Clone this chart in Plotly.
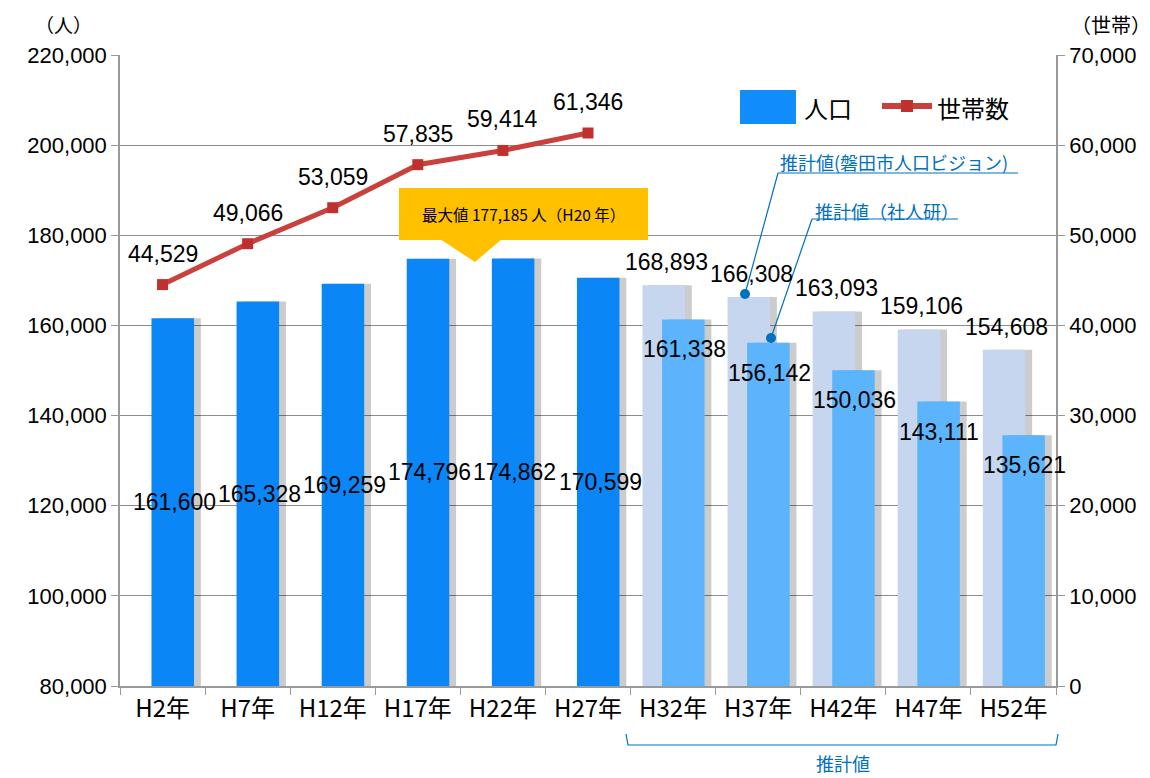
import plotly.graph_objects as go

years = ["H2年", "H7年", "H12年", "H17年", "H22年", "H27年",
         "H32年", "H37年", "H42年", "H47年", "H52年"]
actual_years = years[:6]
future_years = years[6:]

pop_actual = [161600, 165328, 169259, 174796, 174862, 170599]
pop_vision = [168893, 166308, 163093, 159106, 154608]   # 推計値（磐田市人口ビジョン）
pop_ipss = [161338, 156142, 150036, 143111, 135621]     # 推計値（社人研）
households = [44529, 49066, 53059, 57835, 59414, 61346]

max_note = "最大値 177,185 人（H20 年）"

Y_MIN, Y_MAX = 80000, 220000

JP = "Noto Sans CJK JP"
NUM = "Liberation Sans, Arial, sans-serif"
BLUE_TXT = "#0070C0"

# page has an 8px body margin, so the figure is a bit smaller than the window
OFF = 8
W, H = 1150 - OFF, 778 - OFF
# plot area in screen pixels: x 120..1056, y 55..686
X0, X1, Y0, Y1 = 120, 1056, 55, 686
L, T = X0 - OFF, Y0 - OFF
R, B = 1150 - X1, 778 - Y1
PW, PH = X1 - X0, Y1 - Y0


def px(x):
    return (x - X0) / PW


def py(y):
    return (Y1 - y) / PH


fig = go.Figure()

# shadows
fig.add_trace(go.Bar(x=future_years, y=pop_vision, width=0.5, offset=-0.36 + 0.08,
                     marker=dict(color="rgba(0,0,0,0.2)", line_width=0),
                     hoverinfo="skip", showlegend=False))
fig.add_trace(go.Bar(x=future_years, y=pop_vision, width=0.5, offset=-0.36,
                     marker=dict(color="#C6D6EE", line_width=0),
                     name="推計値（磐田市人口ビジョン）", showlegend=False))
fig.add_trace(go.Bar(x=actual_years + future_years, y=pop_actual + pop_ipss, width=0.5,
                     offset=-0.13 + 0.08,
                     marker=dict(color="rgba(0,0,0,0.2)", line_width=0),
                     hoverinfo="skip", showlegend=False))
fig.add_trace(go.Bar(x=future_years, y=pop_ipss, width=0.5, offset=-0.13,
                     marker=dict(color="#5CB5FC", line_width=0),
                     name="推計値（社人研）", showlegend=False))
fig.add_trace(go.Bar(x=actual_years, y=pop_actual, width=0.5, offset=-0.13,
                     marker=dict(color="#0A86F7", line_width=0),
                     name="人口", showlegend=False))
fig.add_trace(go.Scatter(x=actual_years, y=households, yaxis="y2", mode="lines+markers",
                         line=dict(color="#C9413D", width=5),
                         marker=dict(symbol="square", size=11, color="#C0302C"),
                         name="世帯数", showlegend=False))

lab_font = dict(family=NUM, size=23, color="black")
ann = []
for c, v in zip(actual_years, households):
    ann.append(dict(x=c, y=v, xref="x", yref="y2", yshift=31, text=f"{v:,}",
                    showarrow=False, font=lab_font))
# actual population labels sit in the middle of the visible bar
for c, v in zip(actual_years, pop_actual):
    ann.append(dict(x=c, y=(Y_MIN + v) / 2, xref="x", yref="y", xshift=12, text=f"{v:,}",
                    showarrow=False, font=lab_font))
for c, v in zip(future_years, pop_vision):
    ann.append(dict(x=c, y=v, xref="x", yref="y", xshift=-7, yshift=23, text=f"{v:,}",
                    showarrow=False, font=lab_font))
for c, v in zip(future_years, pop_ipss):
    ann.append(dict(x=c, y=v, xref="x", yref="y", xshift=11, yshift=-30, text=f"{v:,}",
                    showarrow=False, font=lab_font))


def note(x, y, text, size, color="black", xanchor="center"):
    return dict(x=px(x), y=py(y), xref="paper", yref="paper", text=text, showarrow=False,
                xanchor=xanchor, yanchor="middle", borderpad=0,
                font=dict(family=JP, size=size, color=color))


ann += [
    note(63, 24, "（人）", 19),
    note(1111, 24, "（世帯）", 20),
    note(523, 214, max_note, 15.5),
    note(803, 107, "人口", 24, xanchor="left"),
    note(936, 107, "世帯数", 24, xanchor="left"),
    note(779, 162, "推計値(磐田市人口ビジョン)", 18, BLUE_TXT, xanchor="left"),
    note(814, 211, "推計値（社人研）", 18, BLUE_TXT, xanchor="left"),
    note(843, 763, "推計値", 18, BLUE_TXT),
]

shapes = [
    # callout box + pointer
    dict(type="rect", xref="paper", yref="paper", x0=px(399), x1=px(648), y0=py(240), y1=py(188),
         fillcolor="#FFC000", line_width=0),
    dict(type="path", xref="paper", yref="paper",
         path=f"M {px(440)},{py(239)} L {px(502)},{py(239)} L {px(475)},{py(262)} Z",
         fillcolor="#FFC000", line_width=0),
    # legend symbols
    dict(type="rect", xref="paper", yref="paper", x0=px(740), x1=px(796), y0=py(124), y1=py(90),
         fillcolor="#118CFB", line_width=0),
    dict(type="line", xref="paper", yref="paper", x0=px(882), x1=px(932), y0=py(106), y1=py(106),
         line=dict(color="#C9413D", width=6)),
    dict(type="rect", xref="paper", yref="paper", x0=px(901), x1=px(913), y0=py(112), y1=py(100),
         fillcolor="#C0302C", line_width=0),
    # leader lines for forecast notes
    dict(type="line", xref="paper", yref="paper", x0=px(778), x1=px(1018), y0=py(173), y1=py(173),
         line=dict(color=BLUE_TXT, width=1.2)),
    dict(type="line", xref="paper", yref="paper", x0=px(778), x1=px(745), y0=py(173), y1=py(294),
         line=dict(color=BLUE_TXT, width=1.2)),
    dict(type="circle", xref="paper", yref="paper", x0=px(740), x1=px(750), y0=py(299), y1=py(289),
         fillcolor=BLUE_TXT, line_width=0),
    dict(type="line", xref="paper", yref="paper", x0=px(812), x1=px(958), y0=py(219), y1=py(219),
         line=dict(color=BLUE_TXT, width=1.2)),
    dict(type="line", xref="paper", yref="paper", x0=px(812), x1=px(771), y0=py(219), y1=py(338),
         line=dict(color=BLUE_TXT, width=1.2)),
    dict(type="circle", xref="paper", yref="paper", x0=px(766), x1=px(776), y0=py(343), y1=py(333),
         fillcolor=BLUE_TXT, line_width=0),
    # bracket under forecast years
    dict(type="path", xref="paper", yref="paper",
         path=f"M {px(626)},{py(734)} L {px(628)},{py(745)} L {px(1056)},{py(745)} L {px(1058)},{py(734)}",
         line=dict(color=BLUE_TXT, width=1.2)),
]

fig.update_layout(
    width=W, height=H, margin=dict(l=L, r=R, t=T, b=B, autoexpand=False),
    paper_bgcolor="white", plot_bgcolor="white",
    barmode="overlay", showlegend=False,
    annotations=ann, shapes=shapes,
    xaxis=dict(categoryorder="array", categoryarray=years, tickson="boundaries",
               ticks="outside", ticklen=7, tickcolor="#999", showline=True, linecolor="#999",
               linewidth=1.5, tickfont=dict(family=JP, size=24, color="black"), range=[-0.5, 10.5]),
    yaxis=dict(range=[Y_MIN, Y_MAX], dtick=20000, tickformat=",", showgrid=True,
               gridcolor="#8c8c8c", gridwidth=1, showline=True, linecolor="#999", linewidth=1.5,
               ticks="outside", ticklen=7, tickcolor="#999",
               tickfont=dict(family=NUM, size=22, color="black"), zeroline=False),
    yaxis2=dict(range=[0, 70000], dtick=10000, tickformat=",", overlaying="y", side="right",
                showgrid=False, showline=True, linecolor="#999", linewidth=1.5,
                ticks="outside", ticklen=7, tickcolor="#999",
                tickfont=dict(family=NUM, size=22, color="black"), zeroline=False),
)

fig.write_html("out.html")
